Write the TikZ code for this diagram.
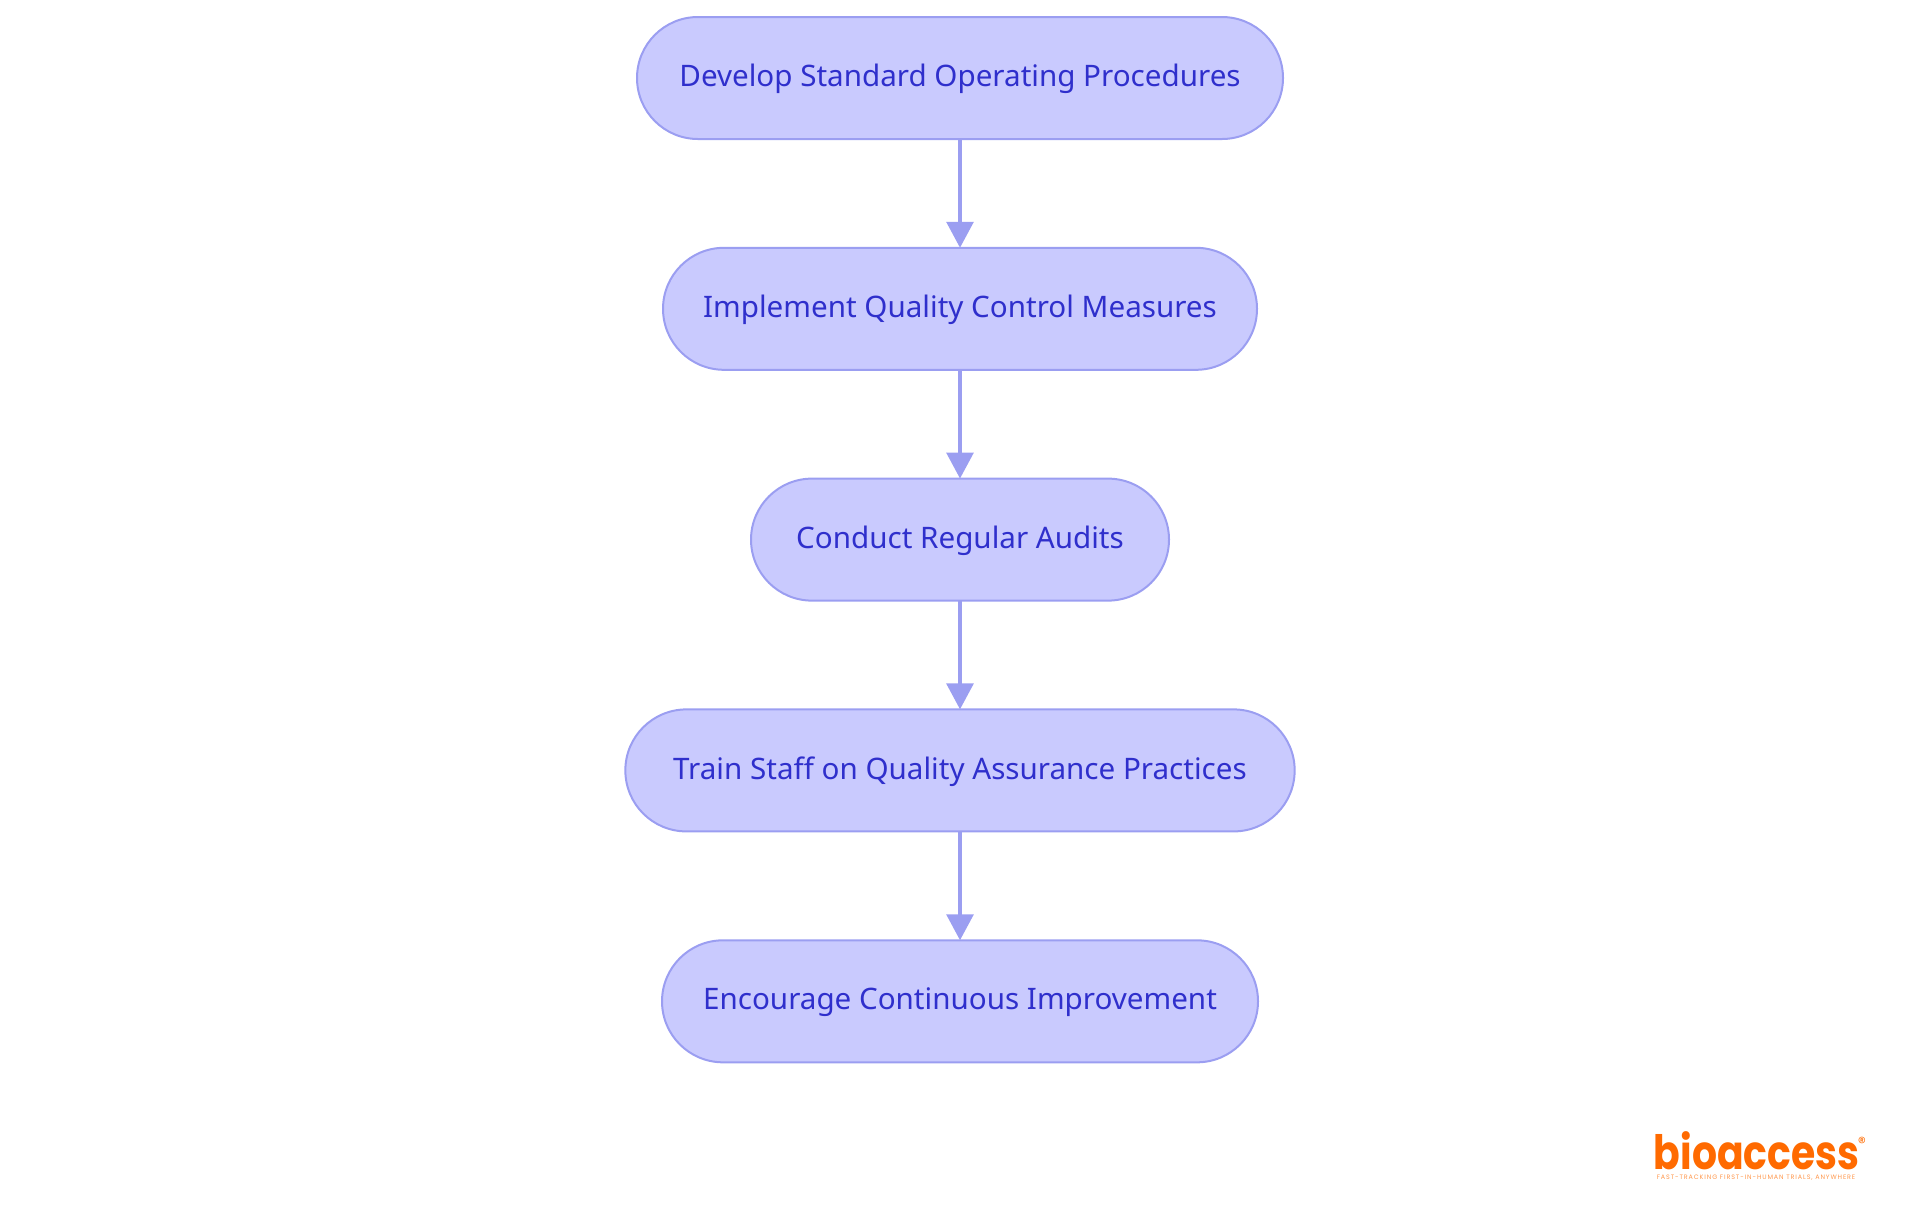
\documentclass[tikz,border=0pt]{standalone}
\usepackage{fontspec}
\setmainfont{Noto Sans}
\newfontfamily\logofont{Poppins}[BoldFont={Poppins Bold}]
\newfontfamily\tagfont{Poppins}[LetterSpace=14]
\usetikzlibrary{arrows.meta}
\definecolor{boxfill}{HTML}{C9CAFE}
\definecolor{boxline}{HTML}{9B9EF1}
\definecolor{boxtext}{HTML}{2F2FCC}
\definecolor{logoorange}{HTML}{FF6A00}

\begin{document}
\begin{tikzpicture}[x=0.75pt,y=-0.75pt,-{Triangle[length=19.5pt,width=20pt]},
  main node/.style={rectangle,draw=boxline,fill=boxfill,text=boxtext,line width=1.5pt,
    rounded corners=45.75pt,minimum height=91.5pt,inner sep=0pt,outer sep=0pt,
    text height=18pt,text depth=5pt,font=\fontsize{22.2}{27}\selectfont},
  logo node/.style={inner sep=0pt,text=logoorange}]

  \useasboundingbox (0,0) rectangle (1920,1215);

  \node[main node,minimum width=484.5pt] (sop) at (960,78) {Develop Standard Operating Procedures};
  \node[main node,minimum width=445.5pt] (qc) at (960,308.8) {Implement Quality Control Measures};
  \node[main node,minimum width=313.5pt] (audit) at (960,539.6) {Conduct Regular Audits};
  \node[main node,minimum width=502pt] (train) at (960,770.4) {Train Staff on Quality Assurance Practices};
  \node[main node,minimum width=447pt] (improve) at (960,1001.3) {Encourage Continuous Improvement};

  \node[logo node,xscale=0.83,font=\logofont\bfseries\fontsize{35.5}{36}\selectfont] (logo) at (1756.5,1150.5) {bioaccess};
  \node[logo node,font=\logofont\fontsize{12}{12}\selectfont] (mark) at (1862,1143) {®};
  \node[logo node,text=logoorange!70,font=\tagfont\fontsize{4.8}{5}\selectfont] (tag) at (1756,1178) {FAST-TRACKING FIRST-IN-HUMAN TRIALS, ANYWHERE};

  \path[color=boxline,line width=3pt]
    (sop) edge (qc)
    (qc) edge (audit)
    (audit) edge (train)
    (train) edge (improve);

\end{tikzpicture}
\end{document}
